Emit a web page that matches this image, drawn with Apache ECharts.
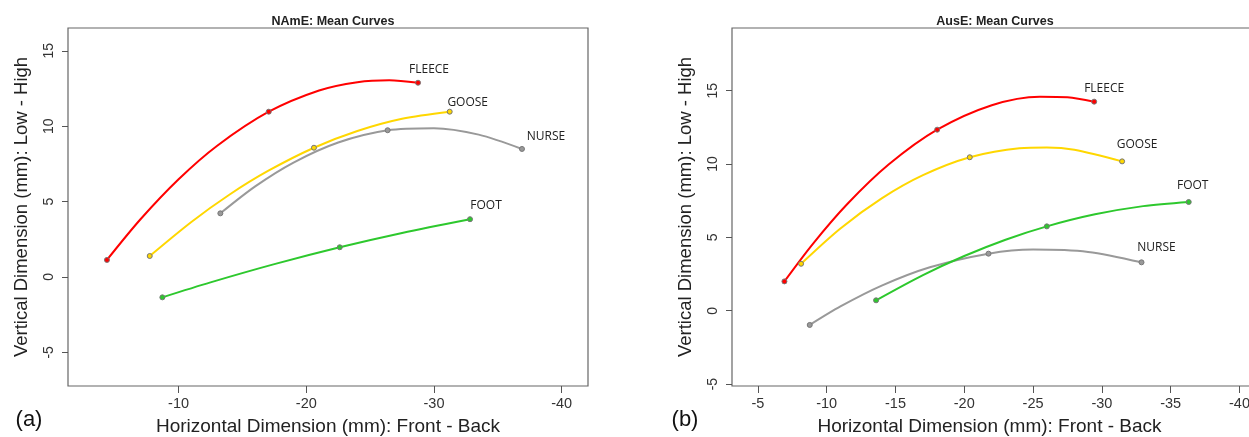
<!DOCTYPE html>
<html lang="en">
<head>
    <meta charset="UTF-8">
    <title>Mean Curves</title>
    <script src="https://cdn.jsdelivr.net/npm/echarts@6/dist/echarts.min.js"></script>
</head>
<body style="margin:0">
<div id="main" style="width: 1249px;height:437px;"></div>
<script type="text/javascript">
    var myChart = echarts.init(document.getElementById('main'));

    var words = ['FLEECE', 'GOOSE', 'NURSE', 'FOOT'];
    var colors = ['#ff0000', '#ffd700', '#999999', '#2dc82d'];
    var xTicksA = [-10, -20, -30, -40];
    var xTicksB = [-5, -10, -15, -20, -25, -30, -35, -40];
    var yTicks = [-5, 0, 5, 10, 15];

    // (a) NAmE - curve
    var curveA = [
        [[-4.39, 1.13], [-7, 3.81], [-10, 6.48], [-13, 8.69], [-17.06, 10.96], [-21, 12.37], [-24, 12.92], [-26.5, 13.05], [-28.75, 12.88]],
        [[-7.74, 1.39], [-11, 3.65], [-14, 5.47], [-17, 7.03], [-20.6, 8.57], [-24, 9.68], [-27.5, 10.49], [-31.23, 10.96]],
        [[-13.27, 4.22], [-16, 6.01], [-19, 7.59], [-22.5, 8.92], [-26.37, 9.73], [-30, 9.87], [-33.5, 9.44], [-36.89, 8.49]],
        [[-8.73, -1.35], [-12.5, -0.36], [-17.5, 0.85], [-22.62, 1.97], [-27.5, 2.92], [-32.82, 3.83]]
    ];
    // measured points (start, middle, end)
    var pointsA = [
        [[-4.39, 1.13], [-17.06, 10.96], [-28.75, 12.88]],
        [[-7.74, 1.39], [-20.6, 8.57], [-31.23, 10.96]],
        [[-13.27, 4.22], [-26.37, 9.73], [-36.89, 8.49]],
        [[-8.73, -1.35], [-22.62, 1.97], [-32.82, 3.83]]
    ];

    // (b) AusE
    var curveB = [
        [[-6.93, 2.0], [-9, 4.56], [-11.5, 7.27], [-14.5, 9.96], [-18.03, 12.34], [-22, 14.01], [-25.5, 14.59], [-27.5, 14.55], [-29.44, 14.25]],
        [[-8.14, 3.2], [-11, 5.61], [-14, 7.66], [-17, 9.24], [-20.4, 10.46], [-24, 11.08], [-26, 11.13], [-28, 10.97], [-31.47, 10.18]],
        [[-8.77, -0.97], [-11, 0.29], [-14, 1.71], [-17.5, 2.96], [-21.76, 3.89], [-25, 4.17], [-29, 4.01], [-32.88, 3.3]],
        [[-13.59, 0.71], [-17, 2.43], [-20, 3.73], [-23, 4.84], [-26, 5.75], [-29.5, 6.57], [-33, 7.13], [-36.31, 7.41]]
    ];
    var pointsB = [
        [[-6.93, 2.0], [-18.03, 12.34], [-29.44, 14.25]],
        [[-8.14, 3.2], [-20.4, 10.46], [-31.47, 10.18]],
        [[-8.77, -0.97], [-21.76, 3.89], [-32.88, 3.3]],
        [[-13.59, 0.71], [-26.0, 5.75], [-36.31, 7.41]]
    ];

    // label offsets from the last point of each curve
    var offsetsA = [[11, -13], [18, -9], [24, -12], [16, -14]];
    var offsetsB = [[10, -13], [15, -17], [15, -15], [4, -16]];

    var font = 'Liberation Sans, Arial, sans-serif';

    function makeX(idx, min, max, ticks, pad) {
        return {
            type: 'value', gridIndex: idx, inverse: true, min: min, max: max,
            name: 'Horizontal Dimension (mm): Front - Back',
            nameLocation: 'middle', nameGap: 31,
            nameTextStyle: {fontFamily: font, fontSize: 19, color: '#222', padding: [0, pad, 0, 0]},
            axisLine: {show: false, onZero: false},
            splitLine: {show: false},
            axisTick: {show: true, length: 7, customValues: ticks, lineStyle: {color: '#555'}},
            axisLabel: {customValues: ticks, margin: 10, fontFamily: font, fontSize: 14.5, color: '#333'}
        };
    }
    function makeY(idx, min, max) {
        return {
            type: 'value', gridIndex: idx, min: min, max: max,
            name: 'Vertical Dimension (mm): Low - High',
            nameLocation: 'middle', nameGap: 37,
            nameTextStyle: {fontFamily: font, fontSize: 18.5, color: '#222'},
            axisLine: {show: false, onZero: false},
            splitLine: {show: false},
            axisTick: {show: true, length: 6, customValues: yTicks, lineStyle: {color: '#555'}},
            axisLabel: {customValues: yTicks, rotate: 90, margin: 12, fontFamily: font, fontSize: 14, color: '#333'}
        };
    }

    var series = [];
    function addPanel(idx, curves, points, offsets) {
        for (var i = 0; i < words.length; i++) {
            series.push({
                type: 'line', xAxisIndex: idx, yAxisIndex: idx,
                data: curves[i], smooth: 0.3, showSymbol: false,
                lineStyle: {color: colors[i], width: 2}, z: 2
            });
            var pts = [];
            for (var j = 0; j < points[i].length; j++) {
                var item = {value: points[i][j]};
                if (j === points[i].length - 1) {
                    item.label = {
                        show: true, formatter: words[i], position: 'inside',
                        offset: offsets[i], fontFamily: 'Open Sans, sans-serif',
                        fontSize: 12, color: '#222'
                    };
                }
                pts.push(item);
            }
            series.push({
                type: 'scatter', xAxisIndex: idx, yAxisIndex: idx,
                data: pts, symbolSize: 5, z: 3,
                itemStyle: {color: colors[i], borderColor: '#777', borderWidth: 1, opacity: 1}
            });
        }
    }
    addPanel(0, curveA, pointsA, offsetsA);
    addPanel(1, curveB, pointsB, offsetsB);

    myChart.setOption({
        animation: false,
        backgroundColor: '#fff',
        title: [
            {text: 'NAmE: Mean Curves', left: 328, top: 10, textAlign: 'center',
                textStyle: {fontFamily: font, fontSize: 12.5, fontWeight: 'bold', color: '#222'}},
            {text: 'AusE: Mean Curves', left: 990, top: 10, textAlign: 'center',
                textStyle: {fontFamily: font, fontSize: 12.5, fontWeight: 'bold', color: '#222'}},
            {text: '(a)', left: 24, top: 404, textAlign: 'center',
                textStyle: {fontFamily: font, fontSize: 22, fontWeight: 'normal', color: '#111'}},
            {text: '(b)', left: 680, top: 404, textAlign: 'center',
                textStyle: {fontFamily: font, fontSize: 22, fontWeight: 'normal', color: '#111'}}
        ],
        grid: [
            {left: 68, top: 28, width: 520, height: 358, show: true, borderColor: '#666', borderWidth: 1.2,
                outerBoundsMode: 'none', containLabel: false},
            {left: 732, top: 28, width: 535, height: 358, show: true, borderColor: '#666', borderWidth: 1.2,
                outerBoundsMode: 'none', containLabel: false}
        ],
        xAxis: [makeX(0, -42.06, -1.34, xTicksA, 0), makeX(1, -42, -3.12, xTicksB, 20)],
        yAxis: [makeY(0, -7.23, 16.51), makeY(1, -5.13, 19.27)],
        series: series
    });
</script>
</body>
</html>
